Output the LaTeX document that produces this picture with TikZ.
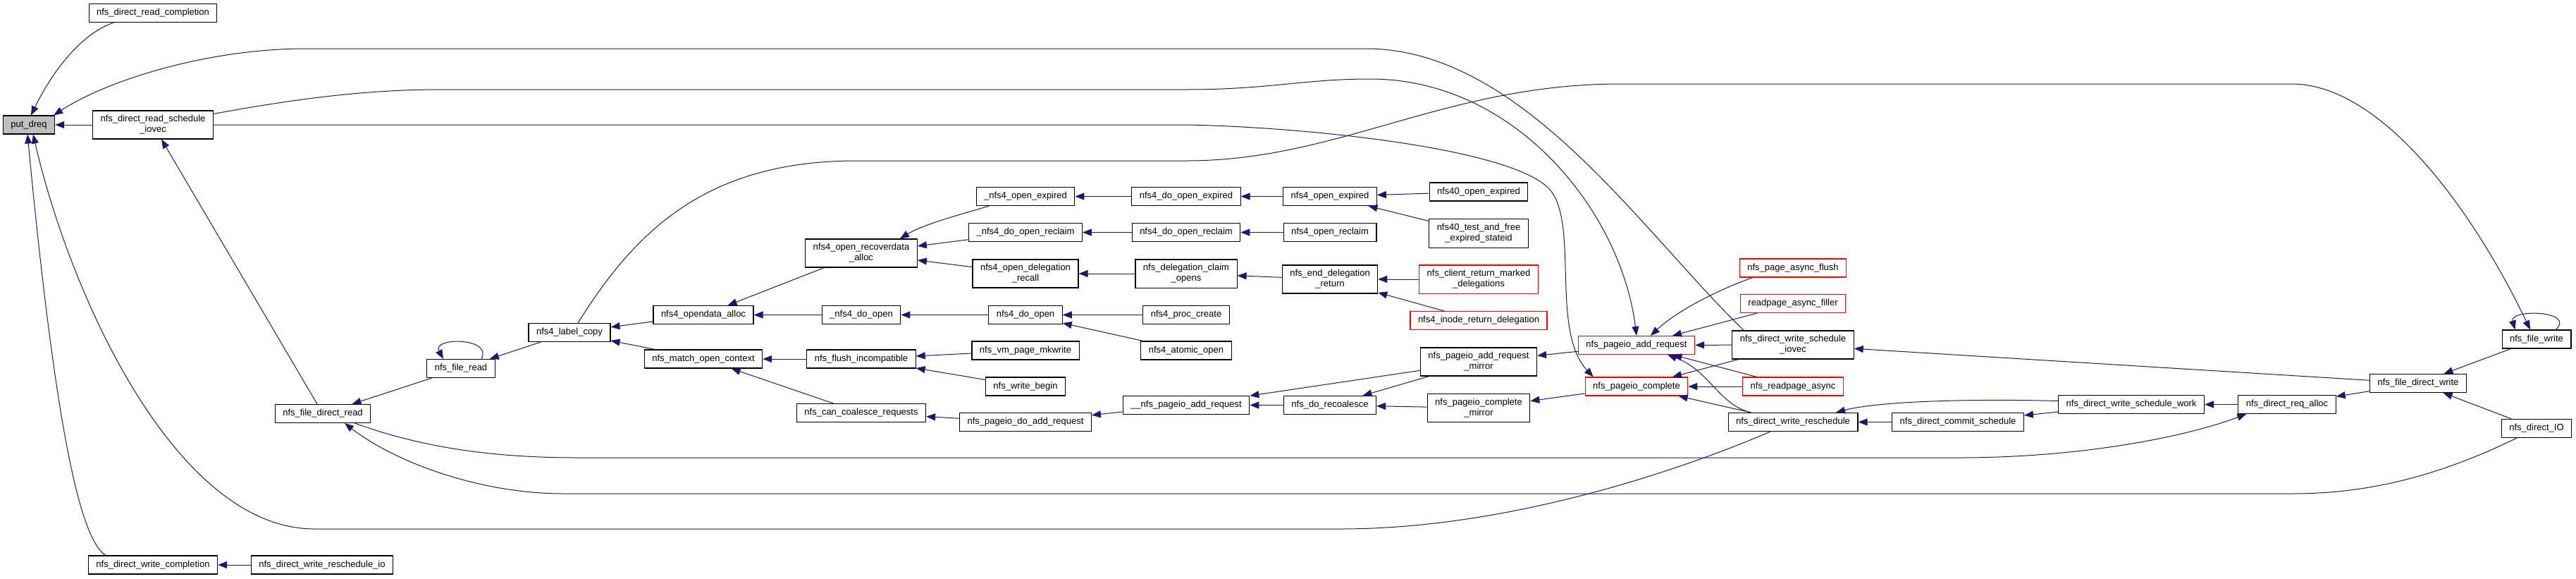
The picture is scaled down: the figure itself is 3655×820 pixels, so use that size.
\documentclass[tikz,border=0pt]{standalone}
\usepackage{fontspec}
\setmainfont{Liberation Sans}
\usetikzlibrary{arrows.meta,calc}
\definecolor{edgeblue}{HTML}{191970}

\begin{document}
\begin{tikzpicture}[
    x=1pt, y=-1pt,
    func/.style={draw=black, fill=white, line width=1.1pt, inner xsep=11pt, inner ysep=6.5pt,
                 minimum height=26pt, align=center, font=\fontsize{13pt}{15pt}\selectfont},
    funcred/.style={func, draw=red},
    funcroot/.style={func, fill=black!25},
    callarrow/.style={-{Triangle[length=13pt,width=10pt]}, draw=edgeblue, line width=1pt}
]
\useasboundingbox (0,0) rectangle (3655,820);

% --- root and its direct callers ---
\node[funcroot] (putdreq) at (41,177) {put\_dreq};
\node[func] (rdcompl) at (217,18.5) {nfs\_direct\_read\_completion};
\node[func] (rdsched) at (217,177) {nfs\_direct\_read\_schedule\\\_iovec};
\node[func] (wrcompl) at (217,801) {nfs\_direct\_write\_completion};
\node[func] (wrreschedio) at (457,801) {nfs\_direct\_write\_reschedule\_io};
\node[func] (filedread) at (458,586.5) {nfs\_file\_direct\_read};
\node[func] (fileread) at (654,522.5) {nfs\_file\_read};

% --- nfs4 open path ---
\node[func] (labelcopy) at (808,471.5) {nfs4\_label\_copy};
\node[func] (odataalloc) at (998,446.5) {nfs4\_opendata\_alloc};
\node[func] (matchctx) at (998,509) {nfs\_match\_open\_context};
\node[func] (recovalloc) at (1222,359) {nfs4\_open\_recoverdata\\\_alloc};
\node[func] (doopenu) at (1222,446.5) {\_nfs4\_do\_open};
\node[func] (flushinc) at (1222,509) {nfs\_flush\_incompatible};
\node[func] (cancoal) at (1222,585.5) {nfs\_can\_coalesce\_requests};
\node[func] (openexpu) at (1455,278.5) {\_nfs4\_open\_expired};
\node[func] (reclaimu) at (1455,329.5) {\_nfs4\_do\_open\_reclaim};
\node[func] (delegrecall) at (1455,388) {nfs4\_open\_delegation\\\_recall};
\node[func] (doopen) at (1455,446.5) {nfs4\_do\_open};
\node[func] (vmmkwrite) at (1455,497) {nfs\_vm\_page\_mkwrite};
\node[func] (writebegin) at (1455,548) {nfs\_write\_begin};
\node[func] (doaddreq) at (1455,598.5) {nfs\_pageio\_do\_add\_request};
\node[func] (doopenexp) at (1683,278.5) {nfs4\_do\_open\_expired};
\node[func] (doreclaim) at (1683,329.5) {nfs4\_do\_open\_reclaim};
\node[func] (claimopens) at (1683,388) {nfs\_delegation\_claim\\\_opens};
\node[func] (proccreate) at (1683,446.5) {nfs4\_proc\_create};
\node[func] (atomicopen) at (1683,497) {nfs4\_atomic\_open};
\node[func] (addrequu) at (1683,574.5) {\_\_nfs\_pageio\_add\_request};
\node[func] (openexp) at (1887,278.5) {nfs4\_open\_expired};
\node[func] (openreclaim) at (1887,329.5) {nfs4\_open\_reclaim};
\node[func] (enddeleg) at (1887,396) {nfs\_end\_delegation\\\_return};
\node[func] (recoalesce) at (1887,574.5) {nfs\_do\_recoalesce};
\node[func] (fortyexp) at (2098,272) {nfs40\_open\_expired};
\node[func] (fortytest) at (2098,331) {nfs40\_test\_and\_free\\\_expired\_stateid};
\node[funcred] (clientret) at (2098,396) {nfs\_client\_return\_marked\\\_delegations};
\node[funcred] (inoderet) at (2098,454.5) {nfs4\_inode\_return\_delegation};
\node[func] (addmirror) at (2098,513) {nfs\_pageio\_add\_request\\\_mirror};
\node[func] (complmirror) at (2098,578.5) {nfs\_pageio\_complete\\\_mirror};

% --- pageio and direct write path ---
\node[funcred] (pageioadd) at (2322,489.5) {nfs\_pageio\_add\_request};
\node[funcred] (pageiocompl) at (2322,548) {nfs\_pageio\_complete};
\node[funcred] (asyncflush) at (2544,380) {nfs\_page\_async\_flush};
\node[funcred] (asyncfiller) at (2544,430.5) {readpage\_async\_filler};
\node[func] (wrsched) at (2544,489) {nfs\_direct\_write\_schedule\\\_iovec};
\node[funcred] (readpageasync) at (2544,548) {nfs\_readpage\_async};
\node[func] (wrresched) at (2544,598.5) {nfs\_direct\_write\_reschedule};
\node[func] (commitsched) at (2778,598.5) {nfs\_direct\_commit\_schedule};
\node[func] (schedwork) at (3024,573.5) {nfs\_direct\_write\_schedule\_work};
\node[func] (reqalloc) at (3245,573.5) {nfs\_direct\_req\_alloc};
\node[func] (filedwrite) at (3431,543.5) {nfs\_file\_direct\_write};
\node[func] (filewrite) at (3599,481) {nfs\_file\_write};
\node[func] (directio) at (3599,607.5) {nfs\_direct\_IO};

% --- edges into put_dreq ---
\draw[callarrow] ($(rdcompl.south)+(-56,0)$) .. controls (110,50) and (70,110) .. ($(putdreq.north)+(3,0)$);
\draw[callarrow] (rdsched) -- (putdreq);
\draw[callarrow] ($(wrsched.north west)+(17,0)$) .. controls (2330,330) and (2160,69) .. (1938,69)
    -- (430,69) .. controls (290,70) and (150,115) .. ($(putdreq.north east)+(-2,0)$);
\draw[callarrow] ($(wrcompl.north west)+(25,0)$) .. controls (115,765) and (80,620) .. ($(putdreq.south)+(-2,0)$);
\draw[callarrow] ($(wrresched.south)+(-32,0)$) .. controls (2400,660) and (2150,750) .. (1902,750)
    -- (446,750) .. controls (250,750) and (100,420) .. ($(putdreq.south)+(6,0)$);

% --- read side ---
\draw[callarrow] (filedread) -- (rdsched);
\draw[callarrow] (wrreschedio) -- (wrcompl);
\draw[callarrow] (fileread) -- (filedread);
\draw[callarrow] ($(fileread.north)+(29,0)$) .. controls (700,478) and (612,478) .. ($(fileread.north)+(-25,0)$);
\draw[callarrow] (labelcopy) -- (fileread);
\draw[callarrow] ($(rdsched.north east)+(0,5)$) .. controls (420,140) and (520,127) .. (625,127)
    -- (1683,127) .. controls (1800,127) and (1850,112) .. (1944,112)
    .. controls (2150,112) and (2300,300) .. (pageioadd.north);
\draw[callarrow] (rdsched.east) -- (1683,177) .. controls (1850,180) and (2150,210) .. (2200,270)
    .. controls (2240,320) and (2200,470) .. ($(pageiocompl.north west)+(12,0)$);
\draw[callarrow] ($(labelcopy.north)+(12,0)$) .. controls (900,330) and (1000,228) .. (1215,228)
    -- (1683,228) .. controls (1900,228) and (2050,119) .. (2300,119)
    -- (3251,119) .. controls (3380,119) and (3510,300) .. ($(filewrite.north)+(-9,0)$);
\draw[callarrow] ($(filedread.south east)+(-23,0)$) .. controls (600,635) and (700,649) .. (820,649)
    -- (2780,649) .. controls (2950,649) and (3100,620) .. ($(reqalloc.south west)+(12,0)$);
\draw[callarrow] ($(directio.south)+(-28,0)$) .. controls (3450,680) and (3350,700) .. (3252,700)
    -- (800,700) .. controls (680,700) and (560,655) .. ($(filedread.south)+(31,0)$);

% --- nfs4 open path ---
\draw[callarrow] (odataalloc) -- (labelcopy);
\draw[callarrow] (matchctx) -- (labelcopy);
\draw[callarrow] (recovalloc) -- (odataalloc);
\draw[callarrow] (doopenu) -- (odataalloc);
\draw[callarrow] (flushinc) -- (matchctx);
\draw[callarrow] (cancoal) -- (matchctx);
\draw[callarrow] ($(openexpu.south west)+(19,0)$) .. controls (1370,302) and (1310,318) .. ($(recovalloc.north)+(55,0)$);
\draw[callarrow] (reclaimu) -- (recovalloc);
\draw[callarrow] (delegrecall) -- (recovalloc);
\draw[callarrow] (doopen) -- (doopenu);
\draw[callarrow] (vmmkwrite) -- (flushinc);
\draw[callarrow] (writebegin) -- (flushinc);
\draw[callarrow] (doaddreq) -- (cancoal);
\draw[callarrow] (doopenexp) -- (openexpu);
\draw[callarrow] (doreclaim) -- (reclaimu);
\draw[callarrow] (claimopens) -- (delegrecall);
\draw[callarrow] (proccreate) -- (doopen);
\draw[callarrow] (atomicopen) -- (doopen);
\draw[callarrow] (addrequu) -- (doaddreq);
\draw[callarrow] (openexp) -- (doopenexp);
\draw[callarrow] (openreclaim) -- (doreclaim);
\draw[callarrow] (enddeleg) -- (claimopens);
\draw[callarrow] (recoalesce) -- (addrequu);
\draw[callarrow] (fortyexp) -- (openexp);
\draw[callarrow] (fortytest) -- (openexp);
\draw[callarrow] (clientret) -- (enddeleg);
\draw[callarrow] (inoderet) -- (enddeleg);
\draw[callarrow] (addmirror) -- (addrequu);
\draw[callarrow] (addmirror) -- (recoalesce);
\draw[callarrow] (complmirror) -- (recoalesce);

% --- pageio and direct write path ---
\draw[callarrow] (pageioadd) -- (addmirror);
\draw[callarrow] (pageiocompl) -- (complmirror);
\draw[callarrow] ($(asyncflush.south west)+(19,0)$) .. controls (2440,410) and (2380,440) .. ($(pageioadd.north)+(20,0)$);
\draw[callarrow] (asyncfiller) -- (pageioadd);
\draw[callarrow] (wrsched) -- (pageioadd);
\draw[callarrow] (readpageasync) -- (pageioadd);
\draw[callarrow] (wrsched) -- (pageiocompl);
\draw[callarrow] (readpageasync) -- (pageiocompl);
\draw[callarrow] (wrresched) -- (pageiocompl);
\draw[callarrow] ($(wrresched.north west)+(33,0)$) .. controls (2440,575) and (2425,525) .. ($(pageioadd.south)+(44,0)$);
\draw[callarrow] (filedwrite) -- (wrsched);
\draw[callarrow] (commitsched) -- (wrresched);
\draw[callarrow] ($(schedwork.west)+(0,-5)$) .. controls (2780,565) and (2660,570) .. ($(wrresched.north)+(61,0)$);
\draw[callarrow] (schedwork) -- (commitsched);
\draw[callarrow] (reqalloc) -- (schedwork);
\draw[callarrow] (filedwrite) -- (reqalloc);
\draw[callarrow] (filewrite) -- (filedwrite);
\draw[callarrow] (directio) -- (filedwrite);
\draw[callarrow] ($(filewrite.north east)+(-22,0)$) .. controls (3655,440) and (3560,438) .. ($(filewrite.north west)+(19,0)$);

\end{tikzpicture}
\end{document}
